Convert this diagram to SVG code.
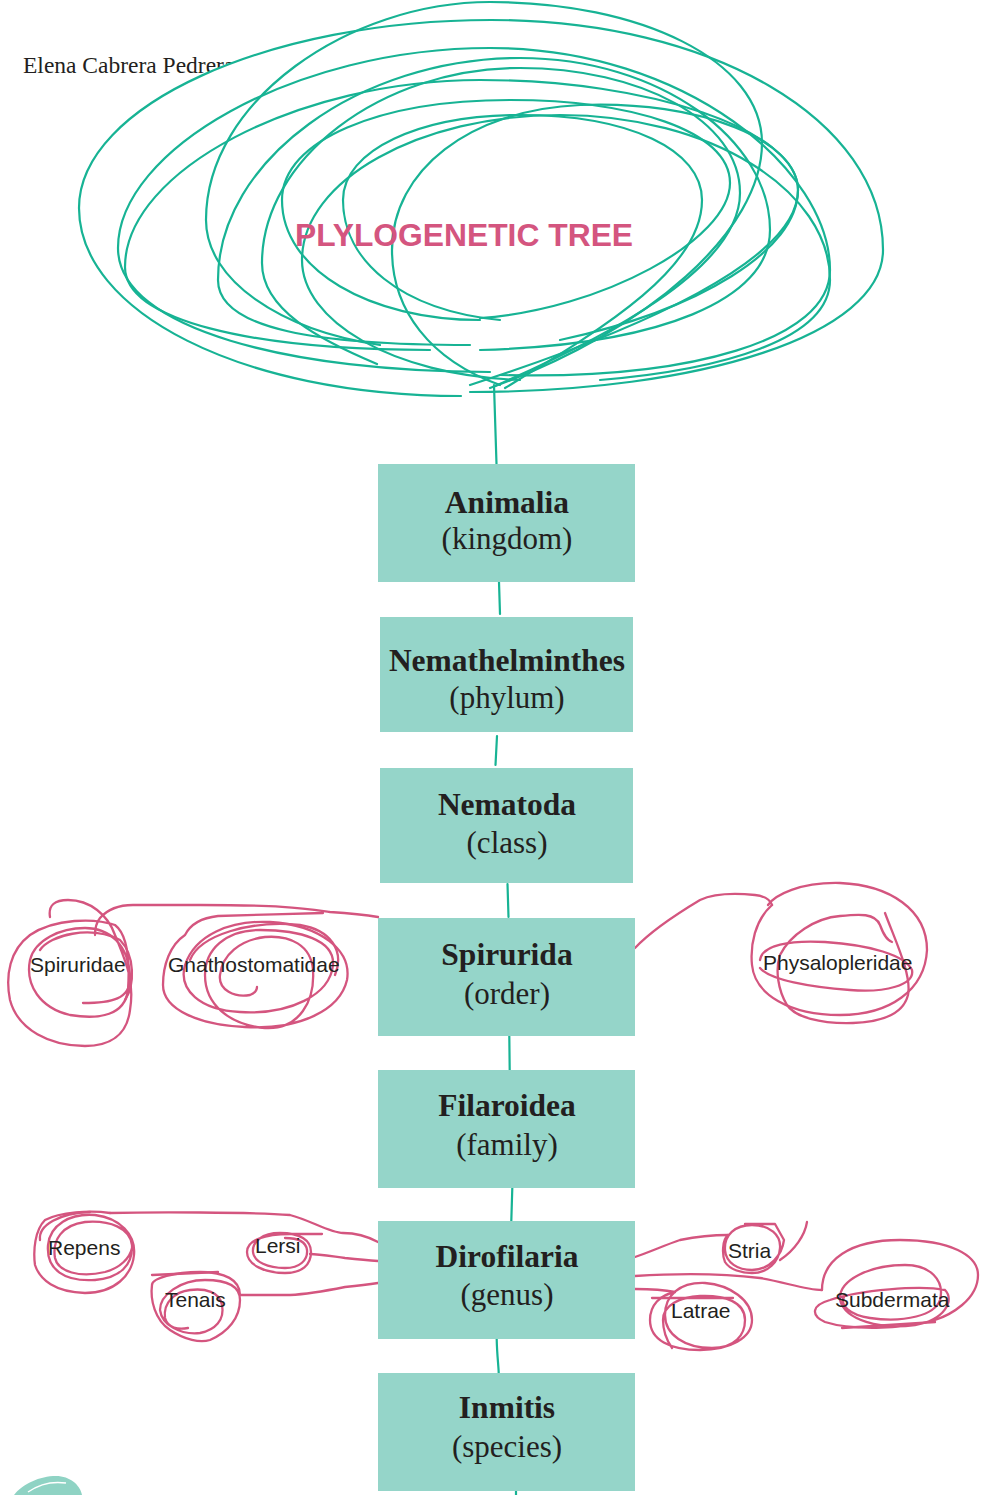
<svg xmlns="http://www.w3.org/2000/svg" width="981" height="1495" viewBox="0 0 981 1495">
<style>
.tl{fill:none;stroke:#17b394;stroke-width:2.2;stroke-linecap:round;stroke-linejoin:round}
.pk{fill:none;stroke:#d4557f;stroke-width:2.3;stroke-linecap:round;stroke-linejoin:round}
.box{fill:#95d5c9}
.nm{font-family:"Liberation Serif",serif;font-weight:bold;font-size:31.5px;fill:#231f20;text-anchor:middle}
.rk{font-family:"Liberation Serif",serif;font-size:31px;fill:#231f20;text-anchor:middle}
.lb{font-family:"Liberation Sans",Arial,sans-serif;font-size:21px;fill:#231f20}
</style>
<rect width="981" height="1495" fill="#ffffff"/>
<text x="23" y="73" font-family="Liberation Serif,serif" font-size="23.5" fill="#231f20">Elena Cabrera Pedrera</text>
<g id="title">
<path d="M461,396 C240,396 79,311 79,208 C79,105 270,20 491,20 C712,20 883,120 883,250 C883,335 700,392 470,392" fill="#ffffff" stroke="none"/>
<path class="tl" d="M461,396 C240,396 79,311 79,208 C79,105 270,20 491,20 C712,20 883,120 883,250 C883,335 700,392 470,392"/>
<path class="tl" d="M490,372 C294,372 118,330 118,248 C118,150 294,48 490,48 C686,48 830,170 830,270 C830,340 690,380 500,375"/>
<path class="tl" d="M430,350 C250,350 125,320 125,267 C125,170 300,80 480,80 C650,80 798,130 798,190 C798,260 640,330 470,385"/>
<path class="tl" d="M380,345 C280,330 206,280 206,220 C206,100 350,2 490,2 C640,2 762,60 762,143 C762,230 650,330 490,388"/>
<path class="tl" d="M470,345 C320,345 218,330 218,280 C218,160 360,58 520,58 C660,58 770,140 770,230 C770,300 660,345 480,350"/>
<path class="tl" d="M377,364 C320,340 262,310 262,263 C262,160 380,68 520,68 C640,68 740,120 740,193 C740,270 600,340 495,386"/>
<path class="tl" d="M480,320 C370,320 282,270 282,200 C282,140 380,100 510,100 C630,100 730,130 730,183 C730,240 600,310 480,318"/>
<path class="tl" d="M520,380 C390,375 302,320 302,260 C302,180 420,115 560,115 C710,115 830,190 830,280 C830,340 720,370 600,380"/>
<path class="tl" d="M500,320 C400,310 343,260 343,200 C343,150 420,115 520,115 C630,115 702,150 702,200 C702,270 600,330 505,388"/>
<path class="tl" d="M500,385 C430,360 392,310 392,250 C392,170 470,110 580,105 C700,100 798,140 798,190 C798,250 700,310 560,340"/>
<text x="295" y="246" font-family="Liberation Sans,Arial,sans-serif" font-weight="bold" font-size="31.8" fill="#d4557f">PLYLOGENETIC TREE</text>
</g>
<g id="connectors">
<path class="tl" d="M494,385 L496.5,464"/>
<path class="tl" d="M499,582 L500,614"/>
<path class="tl" d="M497,736 L495.5,765"/>
<path class="tl" d="M507.5,884 L508.5,917"/>
<path class="tl" d="M509.3,1036 L509.7,1070"/>
<path class="tl" d="M512.3,1188 L511.3,1221"/>
<path class="tl" d="M496.7,1339 C497,1355 498.5,1365 498.7,1373"/>
<path class="tl" d="M516,1491 L516,1495"/>
<path class="pk" d="M378,917 C360,914 345,913 330,912 C300,908 280,905 200,905 L133,905 C118,905 107,910 100,918 C96,923 95,928 95,935"/>
<path class="pk" d="M635,948 C650,932 670,918 700,900 C715,893 735,893 755,895 C765,896 770,900 772,905"/>
<path class="pk" d="M378,1242 C365,1235 355,1233 343,1233 C330,1233 310,1220 290,1215 C250,1212 150,1212 110,1213"/>
<path class="pk" d="M378,1261 C365,1260 355,1259 345,1258 C330,1256 318,1254 310,1254"/>
<path class="pk" d="M378,1283 C365,1285 355,1286 345,1287 C330,1290 310,1294 290,1295 L240,1295"/>
<path class="pk" d="M635,1257 C650,1252 665,1245 680,1240 C700,1236 715,1235 728,1235"/>
<path class="pk" d="M635,1289 C650,1289 665,1290 675,1292"/>
<path class="pk" d="M635,1276 C680,1273 720,1273 760,1278 C785,1282 805,1290 822,1290"/>
</g>
<g id="node-animalia">
<rect class="box" x="378" y="464" width="257" height="118"/>
<text class="nm" x="507" y="513">Animalia</text>
<text class="rk" x="507" y="549">(kingdom)</text>
</g>
<g id="node-nemathelminthes">
<rect class="box" x="380" y="617" width="253" height="115"/>
<text class="nm" x="507" y="671">Nemathelminthes</text>
<text class="rk" x="507" y="708">(phylum)</text>
</g>
<g id="node-nematoda">
<rect class="box" x="380" y="768" width="253" height="115"/>
<text class="nm" x="507" y="815">Nematoda</text>
<text class="rk" x="507" y="853">(class)</text>
</g>
<g id="node-spirurida">
<rect class="box" x="378" y="918" width="257" height="118"/>
<text class="nm" x="507" y="965">Spirurida</text>
<text class="rk" x="507" y="1004">(order)</text>
</g>
<g id="node-filaroidea">
<rect class="box" x="378" y="1070" width="257" height="118"/>
<text class="nm" x="507" y="1116">Filaroidea</text>
<text class="rk" x="507" y="1155">(family)</text>
</g>
<g id="node-dirofilaria">
<rect class="box" x="378" y="1221" width="257" height="118"/>
<text class="nm" x="507" y="1267">Dirofilaria</text>
<text class="rk" x="507" y="1305">(genus)</text>
</g>
<g id="node-inmitis">
<rect class="box" x="378" y="1373" width="257" height="118"/>
<text class="nm" x="507" y="1418">Inmitis</text>
<text class="rk" x="507" y="1457">(species)</text>
</g>
<g id="node-spiruridae">
<path class="pk" d="M50,917 C48,905 55,900 68,900 C90,900 108,915 115,935 C125,960 135,980 130,1010 C127,1035 110,1046 85,1046 C50,1046 18,1030 10,1000 C5,975 10,950 30,935 C55,918 95,918 115,925 C128,935 130,960 128,990 C125,1015 100,1020 70,1015 C40,1008 25,985 30,960 C35,940 60,928 85,928 C110,928 128,945 130,975 C132,1000 110,1003 83,1003"/>
<path class="pk" d="M40,950 C50,935 90,925 120,940 C135,955 135,985 125,1000"/>
<text class="lb" x="30" y="972">Spiruridae</text>
</g>
<g id="node-gnathostomatidae">
<path class="pk" d="M323,913 C290,914 250,915 218,916 C200,918 190,925 185,935 C170,945 163,965 163,985 C163,1010 200,1025 245,1027 C300,1030 340,1010 347,980 C352,950 320,925 270,922 C230,920 195,935 185,965 C178,990 200,1010 240,1012 C290,1015 330,995 333,965 C335,940 300,930 260,930 C225,930 205,950 205,975 C205,1005 230,1025 265,1028 C300,1030 315,1000 313,970 C311,945 290,935 265,937 C240,940 222,955 220,975 C218,990 235,998 250,995 C255,993 257,990 257,987"/>
<path class="pk" d="M190,960 C200,935 250,920 300,925 C330,930 345,950 335,975"/>
<text class="lb" x="168" y="972">Gnathostomatidae</text>
</g>
<g id="node-physalopleridae">
<path class="pk" d="M772,905 C755,920 750,945 752,965 C755,995 790,1015 840,1015 C890,1015 925,990 927,950 C927,910 890,885 840,883 C800,882 775,895 768,905"/>
<path class="pk" d="M760,960 C762,945 790,940 825,942 C870,945 905,955 912,970 C915,985 885,993 850,990 C810,987 770,980 760,968"/>
<path class="pk" d="M885,913 C895,940 912,975 908,995 C903,1015 880,1022 853,1023 C820,1024 795,1017 787,1005 C778,990 775,970 780,955 C790,935 815,918 840,916 C860,914 875,913 880,925 C883,933 886,940 892,942"/>
<text class="lb" x="763" y="970">Physalopleridae</text>
</g>
<g id="node-repens">
<path class="pk" d="M110,1213 C90,1210 60,1212 45,1220 C35,1230 33,1250 35,1265 C40,1280 55,1292 85,1293 C115,1293 132,1275 134,1255 C136,1235 120,1218 95,1215 C70,1213 50,1225 48,1245 C46,1270 65,1282 95,1280 C120,1278 133,1265 132,1245 C130,1228 110,1220 85,1222 C62,1225 52,1240 55,1258 C58,1272 80,1278 105,1272 C120,1268 130,1258 132,1248"/>
<path class="pk" d="M40,1240 C38,1225 60,1213 90,1212"/>
<text class="lb" x="48" y="1255">Repens</text>
</g>
<g id="node-lersi">
<path class="pk" d="M322,1234 L290,1234 C265,1234 247,1240 247,1252 C247,1265 265,1273 285,1273 C302,1273 311,1265 311,1252 C311,1240 300,1233 280,1233 C262,1233 252,1242 253,1252 C254,1262 268,1268 285,1268 C300,1268 308,1260 307,1250 C306,1242 298,1238 285,1238"/>
<text class="lb" x="255" y="1253">Lersi</text>
</g>
<g id="node-tenais">
<path class="pk" d="M240,1295 C240,1280 225,1272 200,1272 C175,1272 152,1278 152,1285 C150,1300 155,1320 170,1330 C185,1340 200,1343 210,1340 C228,1332 240,1318 240,1300 C240,1285 225,1280 205,1280 C180,1280 160,1295 160,1310 C162,1325 180,1335 200,1333 C215,1330 225,1320 222,1305 C220,1292 205,1288 190,1290 C175,1292 163,1302 165,1318 C168,1328 178,1330 188,1328"/>
<path class="pk" d="M152,1275 L218,1272"/>
<text class="lb" x="165" y="1307">Tenais</text>
</g>
<g id="node-stria">
<path class="pk" d="M728,1235 C722,1240 722,1255 725,1262 C730,1270 742,1273 752,1273 C768,1273 779,1262 780,1248 C781,1235 770,1225 752,1225 C735,1225 724,1235 725,1250 C726,1263 738,1270 752,1270 C770,1270 782,1255 784,1240 L775,1224 L745,1224"/>
<path class="pk" d="M780,1260 C795,1250 805,1235 807,1222"/>
<text class="lb" x="728" y="1258">Stria</text>
</g>
<g id="node-latrae">
<path class="pk" d="M675,1292 C660,1295 650,1305 650,1320 C650,1340 670,1350 700,1350 C730,1350 752,1338 752,1320 C752,1300 730,1285 705,1283 C680,1282 665,1295 665,1315 C665,1335 685,1348 712,1348 C735,1348 745,1335 745,1320 C745,1302 725,1295 700,1296 C680,1297 663,1305 663,1320 C663,1335 670,1345 672,1348"/>
<path class="pk" d="M652,1298 L733,1298"/>
<text class="lb" x="671" y="1318">Latrae</text>
</g>
<g id="node-subdermata">
<path class="pk" d="M822,1290 C822,1260 850,1240 900,1240 C950,1240 978,1255 978,1275 C978,1300 950,1315 935,1320 C900,1330 850,1330 825,1322 C810,1315 812,1305 830,1300 C860,1290 920,1285 945,1290 C955,1300 945,1320 915,1325 C880,1330 845,1320 840,1300 C838,1280 870,1265 905,1265 C930,1265 945,1280 940,1300 C935,1315 905,1323 870,1318 C850,1315 838,1305 845,1295"/>
<path class="pk" d="M842,1328 L935,1322"/>
<text class="lb" x="835" y="1307">Subdermata</text>
</g>
<path d="M14,1495 C22,1484 40,1476 56,1476 C70,1476 80,1485 82,1495 Z" fill="#8fd3c4"/>
<path d="M28,1492 C38,1485 52,1481 66,1483" fill="none" stroke="#ffffff" stroke-width="1.5"/>
</svg>
